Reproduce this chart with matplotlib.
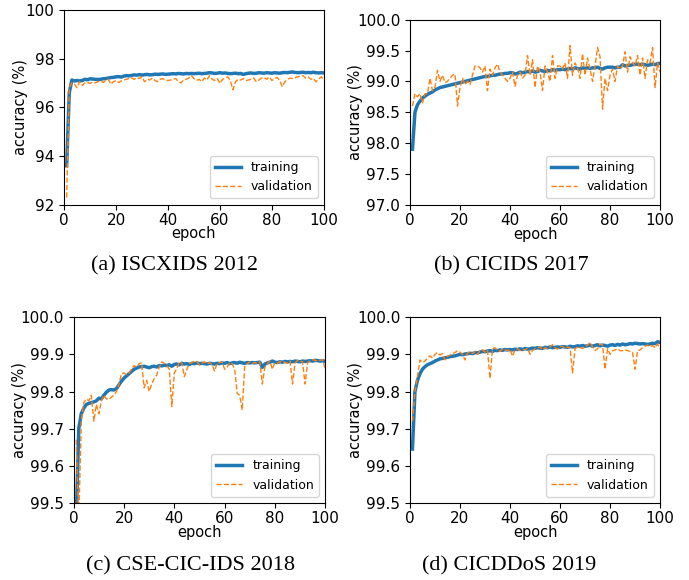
#!/usr/bin/env python
#
# Training / validation accuracy curves for four IDS datasets
#
import numpy as np
import matplotlib
matplotlib.use("Agg")
import matplotlib.pyplot as plt
from matplotlib.ticker import FormatStrFormatter

epochs = np.arange(1, 101)

# (a) ISCXIDS 2012
train_a = [93.6, 96.6, 97.12, 97.08, 97.1, 97.08, 97.1, 97.15, 97.13, 97.17,
           97.16, 97.15, 97.14, 97.15, 97.17, 97.18, 97.2, 97.22, 97.23, 97.25,
           97.26, 97.24, 97.28, 97.3, 97.29, 97.31, 97.33, 97.32, 97.34, 97.32,
           97.34, 97.35, 97.33, 97.34, 97.36, 97.35, 97.36, 97.37, 97.35, 97.36,
           97.37, 97.38, 97.37, 97.39, 97.38, 97.37, 97.39, 97.38, 97.39, 97.38,
           97.39, 97.4, 97.38, 97.39, 97.4, 97.42, 97.41, 97.39, 97.4, 97.42,
           97.4, 97.41, 97.39, 97.38, 97.39, 97.4, 97.38, 97.39, 97.35, 97.38,
           97.4, 97.41, 97.39, 97.4, 97.42, 97.41, 97.4, 97.42, 97.41, 97.4,
           97.42, 97.41, 97.4, 97.42, 97.43, 97.42, 97.44, 97.45, 97.43, 97.42,
           97.43, 97.44, 97.42, 97.43, 97.42, 97.44, 97.42, 97.41, 97.42, 97.41]
val_a = [92.3, 96.8, 97.0, 96.95, 96.8, 97.05, 96.9, 97.0, 97.02, 96.98,
         97.03, 97.0, 97.05, 97.08, 97.02, 97.1, 97.15, 96.95, 97.05, 97.1,
         97.02, 97.08, 97.12, 97.15, 97.18, 97.2, 97.15, 97.22, 97.18, 97.25,
         97.05, 97.15, 97.12, 97.2, 97.1, 97.05, 97.15, 97.18, 97.12, 97.1,
         97.12, 97.15, 97.18, 97.05, 97.0, 97.12, 97.15, 97.2, 97.3, 97.18,
         97.1, 97.15, 97.05, 97.2, 97.12, 97.3, 97.15, 97.1, 97.18, 96.98,
         97.15, 97.2, 97.25, 97.1, 96.72, 97.05, 97.15, 97.12, 97.18, 97.1,
         97.12, 97.15, 97.2, 97.05, 97.12, 97.2, 97.22, 97.15, 97.25, 97.1,
         97.18, 97.22, 97.1, 96.85, 97.05, 97.15, 97.2, 97.18, 97.22, 97.25,
         97.28, 97.3, 97.2, 97.25, 97.15, 97.18, 97.05, 97.15, 97.25, 97.12]

# (b) CICIDS 2017
train_b = [97.9, 98.5, 98.62, 98.68, 98.73, 98.76, 98.79, 98.81, 98.83, 98.86,
           98.88, 98.9, 98.91, 98.92, 98.93, 98.94, 98.95, 98.96, 98.97, 98.98,
           98.99, 99.0, 99.01, 99.02, 99.03, 99.04, 99.05, 99.06, 99.07, 99.08,
           99.08, 99.09, 99.1, 99.1, 99.11, 99.12, 99.12, 99.13, 99.13, 99.14,
           99.14, 99.12, 99.13, 99.15, 99.14, 99.15, 99.16, 99.15, 99.17, 99.15,
           99.16, 99.18, 99.17, 99.16, 99.18, 99.17, 99.19, 99.18, 99.19, 99.19,
           99.2, 99.19, 99.2, 99.21, 99.2, 99.22, 99.21, 99.2, 99.22, 99.21,
           99.22, 99.21, 99.22, 99.22, 99.23, 99.21, 99.2, 99.22, 99.23, 99.23,
           99.23, 99.22, 99.23, 99.23, 99.27, 99.25, 99.26, 99.26, 99.27, 99.28,
           99.28, 99.27, 99.28, 99.27, 99.26, 99.27, 99.28, 99.27, 99.29, 99.29]
val_b = [98.6, 98.8, 98.75, 98.8, 98.65, 98.8, 98.8, 99.05, 98.85, 98.9,
         99.18, 99.0, 99.1, 98.98, 99.0, 99.05, 99.1, 99.12, 98.6, 98.9,
         99.05, 98.95, 99.0, 98.95, 99.1, 99.25, 99.25, 99.22, 99.15, 99.25,
         98.85, 99.2, 99.1, 99.22, 99.28, 99.15, 99.1, 99.05, 99.0, 99.05,
         99.15, 98.92, 99.1, 99.15, 99.05, 99.1, 99.42, 99.1, 99.35, 98.9,
         99.25, 99.15, 98.85, 99.25, 99.15, 99.0, 99.42, 99.05, 99.25, 99.25,
         99.2, 99.3, 99.05, 99.58, 99.1, 99.3, 99.22, 99.05, 99.45, 99.1,
         99.38, 99.2, 99.0, 99.25, 99.55, 99.4, 98.55, 99.05, 98.85, 99.1,
         99.2, 99.0, 99.25, 99.2, 99.25, 99.48, 99.15, 99.4, 99.3, 99.25,
         99.42, 99.1, 99.38, 99.05, 99.35, 99.3, 99.55, 98.9, 99.3, 99.15]

# (c) CSE-CIC-IDS 2018
train_c = [99.45, 99.70, 99.74, 99.755, 99.765, 99.768, 99.77, 99.772, 99.775, 99.782,
           99.78, 99.79, 99.798, 99.804, 99.805, 99.804, 99.808, 99.818, 99.828, 99.836,
           99.842, 99.848, 99.854, 99.86, 99.863, 99.866, 99.867, 99.868, 99.866, 99.864,
           99.867, 99.868, 99.866, 99.87, 99.869, 99.871, 99.87, 99.872, 99.868, 99.873,
           99.874, 99.872, 99.876, 99.874, 99.875, 99.873, 99.876, 99.875, 99.877, 99.875,
           99.876, 99.875, 99.874, 99.876, 99.875, 99.874, 99.876, 99.875, 99.877, 99.876,
           99.878, 99.875, 99.877, 99.878, 99.876, 99.879, 99.877, 99.876, 99.878, 99.877,
           99.878, 99.877, 99.878, 99.879, 99.865, 99.874, 99.877, 99.879, 99.882, 99.879,
           99.878, 99.88, 99.879, 99.881, 99.88, 99.881, 99.88, 99.882, 99.881, 99.88,
           99.882, 99.881, 99.882, 99.883, 99.882, 99.884, 99.883, 99.882, 99.883, 99.881]
val_c = [99.67, 99.45, 99.72, 99.77, 99.78, 99.775, 99.79, 99.72, 99.765, 99.74,
         99.775, 99.79, 99.78, 99.778, 99.785, 99.79, 99.80, 99.82, 99.848, 99.85,
         99.845, 99.85, 99.86, 99.87, 99.865, 99.875, 99.877, 99.81, 99.83, 99.8,
         99.82, 99.835, 99.845, 99.865, 99.88, 99.876, 99.87, 99.86, 99.76, 99.85,
         99.862, 99.88, 99.876, 99.84, 99.86, 99.875, 99.878, 99.882, 99.88, 99.872,
         99.876, 99.88, 99.874, 99.878, 99.872, 99.855, 99.876, 99.878, 99.88, 99.86,
         99.865, 99.878, 99.875, 99.86, 99.795, 99.79, 99.75, 99.87, 99.875, 99.88,
         99.876, 99.878, 99.875, 99.88, 99.82, 99.865, 99.875, 99.882, 99.86, 99.878,
         99.876, 99.88, 99.882, 99.878, 99.876, 99.882, 99.82, 99.876, 99.884, 99.882,
         99.88, 99.82, 99.878, 99.882, 99.886, 99.884, 99.882, 99.884, 99.886, 99.86]

# (d) CICDDoS 2019
train_d = [99.645, 99.80, 99.83, 99.848, 99.86, 99.867, 99.872, 99.875, 99.878, 99.882,
           99.885, 99.888, 99.889, 99.891, 99.892, 99.894, 99.895, 99.896, 99.898, 99.9,
           99.899, 99.901, 99.902, 99.903, 99.902, 99.905, 99.904, 99.906, 99.908, 99.907,
           99.909, 99.91, 99.908, 99.911, 99.91, 99.912, 99.911, 99.913, 99.912, 99.913,
           99.912, 99.914, 99.913, 99.915, 99.913, 99.916, 99.914, 99.915, 99.917, 99.916,
           99.918, 99.917, 99.916, 99.919, 99.918, 99.92, 99.918, 99.919, 99.92, 99.919,
           99.921, 99.92, 99.919, 99.922, 99.92, 99.921, 99.923, 99.922, 99.924, 99.922,
           99.923, 99.925, 99.922, 99.924, 99.926, 99.923, 99.925, 99.924, 99.922, 99.925,
           99.926, 99.924, 99.927, 99.925, 99.928, 99.926, 99.927, 99.929, 99.928, 99.93,
           99.929, 99.928, 99.929, 99.928, 99.927, 99.928, 99.93, 99.929, 99.934, 99.932]
val_d = [99.72, 99.80, 99.84, 99.885, 99.878, 99.882, 99.89, 99.896, 99.89, 99.9,
         99.905, 99.898, 99.902, 99.885, 99.895, 99.898, 99.902, 99.905, 99.91, 99.906,
         99.9, 99.885, 99.904, 99.906, 99.902, 99.908, 99.9, 99.91, 99.912, 99.906,
         99.912, 99.835, 99.915, 99.918, 99.91, 99.908, 99.915, 99.912, 99.91, 99.914,
         99.895, 99.912, 99.915, 99.91, 99.914, 99.912, 99.916, 99.9, 99.91, 99.915,
         99.918, 99.92, 99.912, 99.918, 99.915, 99.92, 99.926, 99.918, 99.914, 99.92,
         99.922, 99.915, 99.92, 99.918, 99.85, 99.915, 99.92, 99.918, 99.916, 99.92,
         99.925, 99.932, 99.92, 99.91, 99.915, 99.928, 99.925, 99.86, 99.915, 99.9,
         99.91, 99.912, 99.915, 99.91, 99.91, 99.912, 99.91, 99.908, 99.905, 99.86,
         99.91, 99.912, 99.918, 99.922, 99.925, 99.92, 99.924, 99.918, 99.928, 99.915]

captions = ["(a) ISCXIDS 2012", "(b) CICIDS 2017",
            "(c) CSE-CIC-IDS 2018", "(d) CICDDoS 2019"]
ylims = [(92, 100), (97, 100), (99.5, 100), (99.5, 100)]
ysteps = [2, 0.5, 0.1, 0.1]
yfmts = ["%d", "%.1f", "%.1f", "%.1f"]

# axes rectangles [left, bottom, width, height] in figure fractions
rects = [[0.093, 0.647, 0.377, 0.336],
         [0.595, 0.647, 0.363, 0.319],
         [0.107, 0.133, 0.365, 0.320],
         [0.595, 0.133, 0.363, 0.320]]
# label centres in axes coords (ylabel x, xlabel y)
ylab_x = [-0.169, -0.216, -0.215, -0.218]
xlab_y = [-0.148, -0.162, -0.160, -0.160]
# caption centres
cap_pos = [(0.253, 0.542), (0.742, 0.542), (0.277, 0.025), (0.739, 0.025)]

fig = plt.figure(figsize=(6.89, 5.80), dpi=100)
series = [(train_a, val_a), (train_b, val_b), (train_c, val_c), (train_d, val_d)]

for i in range(4):
    ax = fig.add_axes(rects[i])
    tr, va = series[i]
    ax.plot(epochs, tr, color="#1f77b4", lw=2.5, label="training")
    ax.plot(epochs, va, color="#ff7f0e", lw=1.0, ls="--", label="validation")
    ax.set_xlim(0, 100)
    ax.set_ylim(*ylims[i])
    ax.set_xticks(np.arange(0, 101, 20))
    ax.set_yticks(np.arange(ylims[i][0], ylims[i][1] + 1e-9, ysteps[i]))
    ax.yaxis.set_major_formatter(FormatStrFormatter(yfmts[i]))
    ax.tick_params(labelsize=11)
    ax.tick_params(axis="x", pad=2.5)
    ax.set_xlabel("epoch", fontsize=10.5, va="center")
    ax.set_ylabel("accuracy (%)", fontsize=10.5, va="center")
    ax.xaxis.set_label_coords(0.5, xlab_y[i])
    ax.yaxis.set_label_coords(ylab_x[i], 0.5)
    ax.legend(loc="lower right", fontsize=9, handlelength=2.1)
    fig.text(cap_pos[i][0], cap_pos[i][1], captions[i], ha="center", va="center",
             fontsize=16, family="Liberation Serif")

fig.savefig("out.png", dpi=100)
